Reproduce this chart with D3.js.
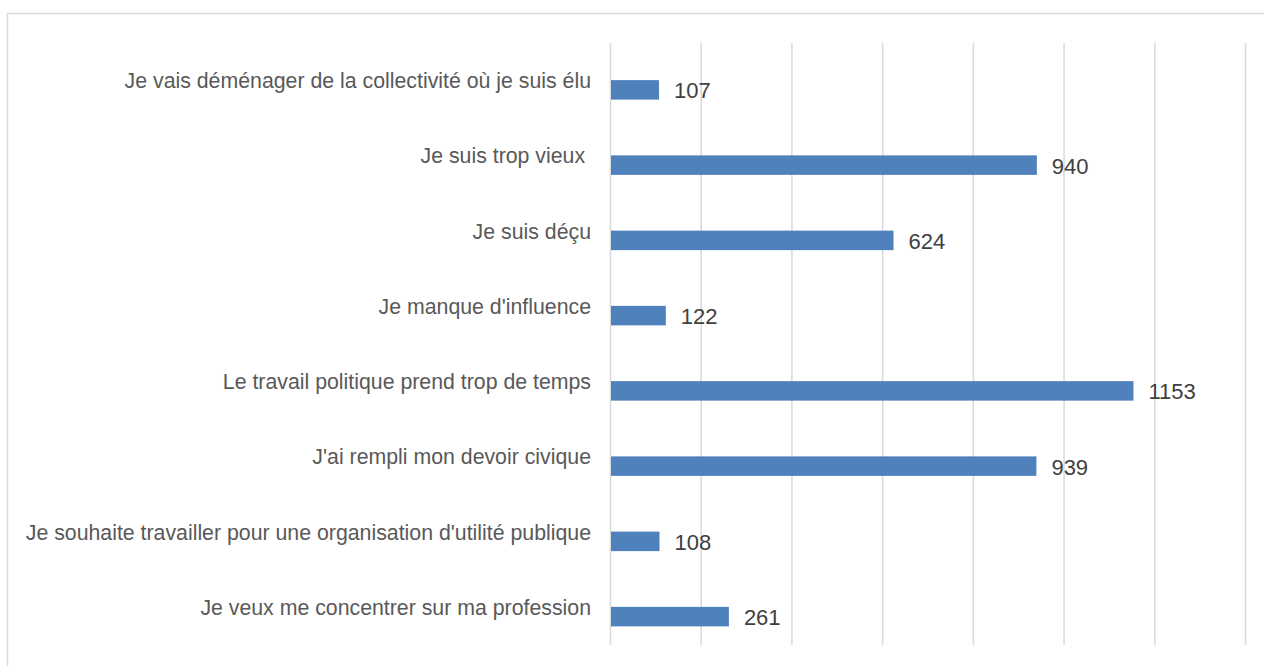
<!DOCTYPE html>
<html>
<head>
<meta charset="utf-8">
<script src="https://cdn.jsdelivr.net/npm/d3@7"></script>
<style>
  body { margin: 0; background: #fff; }
  svg { display: block; font-family: "Liberation Sans", Arial, sans-serif; }
</style>
</head>
<body>
<div id="chart"></div>
<script>
let categories = [
    "Je vais déménager de la collectivité où je suis élu",
    "Je suis trop vieux ",
    "Je suis déçu",
    "Je manque d'influence",
    "Le travail politique prend trop de temps",
    "J'ai rempli mon devoir civique",
    "Je souhaite travailler pour une organisation d'utilité publique",
    "Je veux me concentrer sur ma profession"
];
let values = [107, 940, 624, 122, 1153, 939, 108, 261];
let ticks = [0, 200, 400, 600, 800, 1000, 1200, 1400];

let width = 1264, height = 666;

let svg = d3.select("#chart").append("svg")
    .attr("width", width)
    .attr("height", height);

// chart frame
svg.append("rect")
    .attr("x", 7.5).attr("y", 13.5)
    .attr("width", 1300).attr("height", 700)
    .attr("fill", "none")
    .attr("stroke", "#d9d9d9")
    .attr("stroke-width", 1.5);

let x = d3.scaleLinear().domain([0, 1400]).range([610.5, 1245.5]);
let y = d3.scaleBand().domain(categories).range([43, 645]).padding(0);

// gridlines
svg.append("g")
    .selectAll("line")
    .data(ticks)
    .enter().append("line")
    .attr("x1", d => x(d)).attr("x2", d => x(d))
    .attr("y1", 43).attr("y2", 645)
    .attr("stroke", "#d9d9d9")
    .attr("stroke-width", 1.5);

// bars sit in the lower half of each band
svg.append("g")
    .selectAll("rect")
    .data(values)
    .enter().append("rect")
    .attr("x", x(0) + 0.5)
    .attr("y", (d, i) => y(categories[i]) + y.bandwidth() / 2 - 0.5)
    .attr("width", d => x(d) - x(0) - 0.5)
    .attr("height", 19.5)
    .attr("fill", "#4f81bd");

// category labels
svg.append("g")
    .selectAll("text")
    .data(categories)
    .enter().append("text")
    .attr("x", 591)
    .attr("y", d => y(d) + y.bandwidth() / 2)
    .attr("dy", "0.35em")
    .attr("text-anchor", "end")
    .attr("xml:space", "preserve")
    .style("white-space", "pre")
    .attr("font-size", 21.3)
    .attr("fill", "#595959")
    .text(d => d);

// value labels
svg.append("g")
    .selectAll("text")
    .data(values)
    .enter().append("text")
    .attr("x", d => x(d) + 15)
    .attr("y", (d, i) => y(categories[i]) + y.bandwidth() / 2 + 10)
    .attr("dy", "0.35em")
    .attr("font-size", 22)
    .attr("fill", "#404040")
    .text(d => d);
</script>
</body>
</html>
